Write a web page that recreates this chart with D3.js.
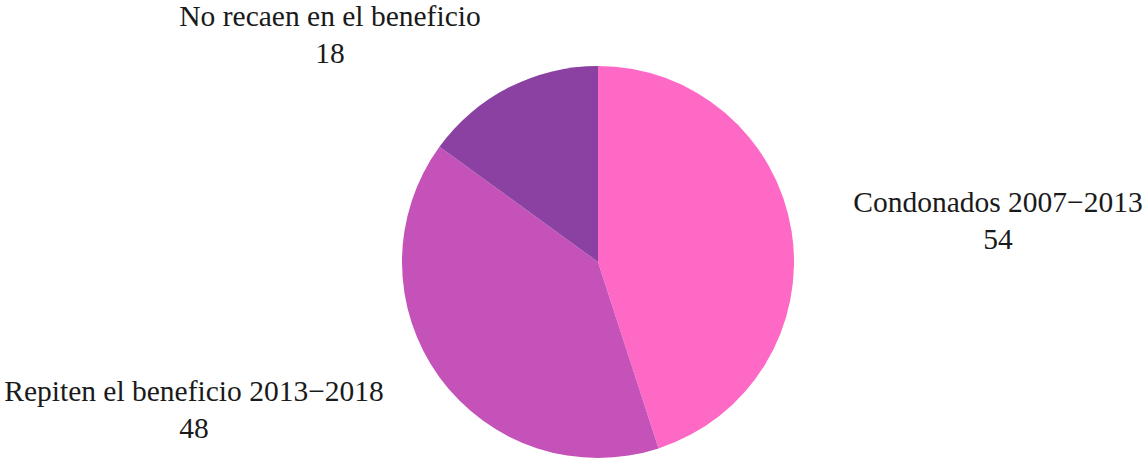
<!DOCTYPE html>
<html><head><meta charset="utf-8">
<script src="https://cdn.jsdelivr.net/npm/d3@7"></script>
<style>html,body{margin:0;padding:0;background:#fff;}svg{display:block;}</style>
</head><body>
<svg id="c" width="1148" height="458"></svg>
<script>
const categories = ["Condonados 2007\u22122013", "Repiten el beneficio 2013\u22122018", "No recaen en el beneficio"];
const values = [54, 48, 18];
const colors = ["#FF69C6", "#C452B9", "#8A41A2"];

const W = 1148, H = 458, cx = 598, cy = 262, R = 196;
const svg = d3.select("#c");
const g = svg.append("g").attr("transform", `translate(${cx},${cy})`);
const pie = d3.pie().sort(null).value(d => d)(values);
const arc = d3.arc().innerRadius(0).outerRadius(R);
g.selectAll("path").data(pie).join("path")
  .attr("d", arc).attr("fill", (d, i) => colors[i]);

// label anchor positions (layout)
const labelPos = [[998, 212], [194, 401], [330, 26]];
const lg = svg.append("g").attr("font-family", "'Liberation Serif', 'DejaVu Serif', serif")
  .attr("font-size", 29.5).attr("fill", "#1a1a1a").attr("text-anchor", "middle");
pie.forEach((d, i) => {
  const t = lg.append("text").attr("x", labelPos[i][0]).attr("y", labelPos[i][1]);
  t.append("tspan").attr("x", labelPos[i][0]).text(categories[i]);
  t.append("tspan").attr("x", labelPos[i][0]).attr("dy", 37).text(values[i]);
});
</script>
</body></html>
